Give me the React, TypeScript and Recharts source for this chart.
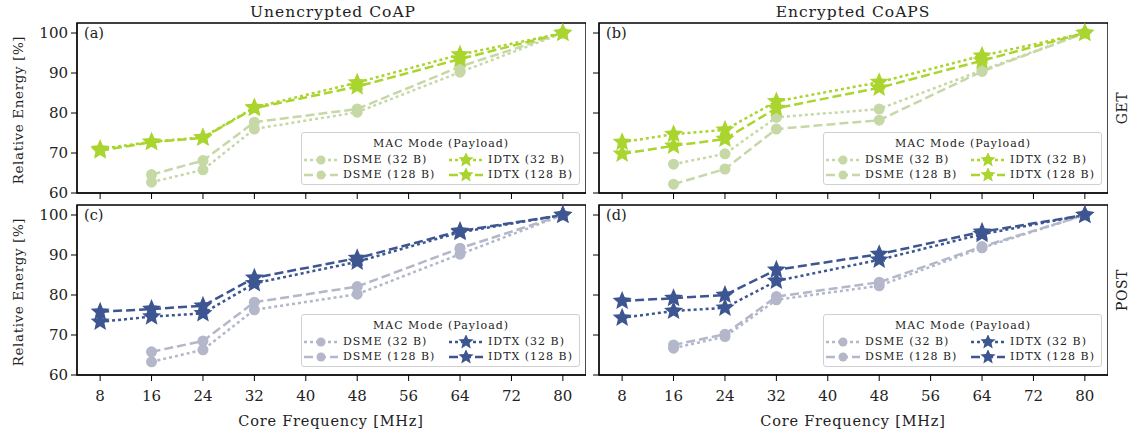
import React from 'react';
import { LineChart, Line, XAxis, YAxis, ReferenceArea } from 'recharts';

const freqs = [8, 16, 24, 32, 48, 64, 80];
const xTicks = [8, 16, 24, 32, 40, 48, 56, 64, 72, 80];
const yTicks = [60, 70, 80, 90, 100];

// (a) GET, unencrypted CoAP
const getCoapDsme32 = [null, 62.7, 65.8, 76.0, 80.2, 90.2, 100];
const getCoapDsme128 = [null, 64.6, 68.1, 77.7, 81.0, 91.6, 100];
const getCoapIdtx32 = [71.0, 72.8, 73.9, 81.4, 87.6, 94.6, 100];
const getCoapIdtx128 = [70.6, 72.7, 73.8, 81.2, 86.6, 93.5, 100];

// (b) GET, encrypted CoAPS
const getCoapsDsme32 = [null, 67.2, 69.8, 78.9, 81.0, 90.7, 100];
const getCoapsDsme128 = [null, 62.2, 66.0, 76.0, 78.2, 90.4, 100];
const getCoapsIdtx32 = [72.7, 74.7, 75.8, 82.9, 87.7, 94.3, 100];
const getCoapsIdtx128 = [69.8, 71.8, 73.5, 81.2, 86.3, 93.1, 100];

// (c) POST, unencrypted CoAP
const postCoapDsme32 = [null, 63.3, 66.3, 76.3, 80.2, 90.2, 100];
const postCoapDsme128 = [null, 65.8, 68.5, 78.2, 82.1, 91.7, 100];
const postCoapIdtx32 = [73.3, 74.6, 75.4, 82.9, 88.3, 95.7, 100];
const postCoapIdtx128 = [75.8, 76.5, 77.3, 84.3, 89.2, 96.0, 100];

// (d) POST, encrypted CoAPS
const postCoapsDsme32 = [null, 66.7, 69.6, 78.8, 82.3, 91.8, 100];
const postCoapsDsme128 = [null, 67.5, 70.2, 79.6, 83.2, 92.1, 100];
const postCoapsIdtx32 = [74.3, 76.0, 76.8, 83.5, 88.8, 95.2, 100];
const postCoapsIdtx128 = [78.5, 79.2, 80.0, 86.3, 90.2, 95.8, 100];

const GET_DSME = '#c6d8a6';
const GET_IDTX = '#aad42e';
const POST_DSME = '#b3b7c9';
const POST_IDTX = '#3d5590';

const FONT = '"DejaVu Serif", serif';
const DOTTED = '3 3';
const DASHED = '9 4';

const X_DOMAIN: [number, number] = [4.4, 83.6];
const Y_DOMAIN: [number, number] = [60, 102.5];

function starPath(cx: number, cy: number, R: number) {
  const r = R * 0.45;
  let d = '';
  for (let i = 0; i < 10; i++) {
    const rad = i % 2 === 0 ? R : r;
    const a = -Math.PI / 2 + (i * Math.PI) / 5;
    d += (i === 0 ? 'M' : 'L') + (cx + rad * Math.cos(a)).toFixed(2) + ',' + (cy + rad * Math.sin(a)).toFixed(2);
  }
  return d + 'Z';
}

const makeDot = (shape: 'star' | 'circle', color: string) => (props: any) => {
  const { cx, cy, index, value } = props;
  if (cx == null || cy == null || value == null) return <g key={`e-${index}`} />;
  if (shape === 'star') return <path key={`s-${index}`} d={starPath(cx, cy, 10)} fill={color} />;
  return <circle key={`c-${index}`} cx={cx} cy={cy} r={5.5} fill={color} />;
};

function buildRows(d32: (number | null)[], d128: (number | null)[], i32: number[], i128: number[]) {
  return freqs.map((f, i) => ({ f, d32: d32[i], d128: d128[i], i32: i32[i], i128: i128[i] }));
}

function LegendSwatch({ color, dash, shape }: { color: string; dash: string; shape: 'star' | 'circle' }) {
  return (
    <svg width={36} height={14} style={{ display: 'block', flex: 'none' }}>
      <line x1={1} y1={7} x2={35} y2={7} stroke={color} strokeWidth={2.5} strokeDasharray={dash} />
      {shape === 'star' ? <path d={starPath(18, 7, 8)} fill={color} /> : <circle cx={18} cy={7} r={4.5} fill={color} />}
    </svg>
  );
}

function PanelLegend({ dsme, idtx }: { dsme: string; idtx: string }) {
  const item = (color: string, dash: string, shape: 'star' | 'circle', text: string) => (
    <div style={{ display: 'flex', alignItems: 'center', gap: 4, whiteSpace: 'nowrap' }}>
      <LegendSwatch color={color} dash={dash} shape={shape} />
      <span>{text}</span>
    </div>
  );
  return (
    <div
      style={{
        position: 'absolute',
        left: 224,
        top: 132,
        width: 279,
        height: 53,
        border: '1.5px solid #d0d0d0',
        borderRadius: 3,
        background: 'rgba(255,255,255,0.85)',
        fontFamily: FONT,
        fontSize: 11,
        letterSpacing: 1,
        color: '#222',
        boxSizing: 'border-box',
        padding: '3px 0 0 1px',
      }}
    >
      <div style={{ textAlign: 'center', lineHeight: '16px' }}>MAC Mode (Payload)</div>
      <div style={{ display: 'grid', gridTemplateColumns: '145px 132px', lineHeight: '15px' }}>
        {item(dsme, DOTTED, 'circle', 'DSME (32 B)')}
        {item(idtx, DOTTED, 'star', 'IDTX (32 B)')}
        {item(dsme, DASHED, 'circle', 'DSME (128 B)')}
        {item(idtx, DASHED, 'star', 'IDTX (128 B)')}
      </div>
    </div>
  );
}

interface PanelProps {
  left: number;
  top: number;
  tag: string;
  rows: any[];
  dsme: string;
  idtx: string;
  showY: boolean;
  showX: boolean;
}

function Panel({ left, top, tag, rows, dsme, idtx, showY, showX }: PanelProps) {
  const tickStyle = { fontFamily: FONT, fontSize: 15, fill: '#222' };
  return (
    <div style={{ position: 'absolute', left, top, width: 586, height: 233 }}>
      <LineChart width={586} height={233} data={rows} margin={{ top: 23, right: 0, bottom: 0, left: 0 }}>
        <XAxis
          dataKey="f"
          type="number"
          domain={X_DOMAIN}
          ticks={xTicks}
          height={40}
          tickSize={6}
          tickMargin={9}
          tick={tickStyle}
          stroke="#000"
          tickFormatter={(v) => (showX ? String(v) : '')}
          allowDataOverflow
        />
        <YAxis
          type="number"
          domain={Y_DOMAIN}
          ticks={yTicks}
          width={77}
          tickSize={6}
          tickMargin={3}
          tick={tickStyle}
          stroke="#000"
          tickFormatter={(v) => (showY ? String(v) : '')}
          allowDataOverflow
        />
        <ReferenceArea x1={X_DOMAIN[0]} x2={X_DOMAIN[1]} y1={Y_DOMAIN[0]} y2={Y_DOMAIN[1]} fill="none" stroke="#000" strokeWidth={1.4} fillOpacity={0} />
        <Line dataKey="d32" stroke={dsme} strokeWidth={2.5} strokeDasharray={DOTTED} dot={makeDot('circle', dsme)} activeDot={false} isAnimationActive={false} />
        <Line dataKey="d128" stroke={dsme} strokeWidth={2.5} strokeDasharray={DASHED} dot={makeDot('circle', dsme)} activeDot={false} isAnimationActive={false} />
        <Line dataKey="i32" stroke={idtx} strokeWidth={2.5} strokeDasharray={DOTTED} dot={makeDot('star', idtx)} activeDot={false} isAnimationActive={false} />
        <Line dataKey="i128" stroke={idtx} strokeWidth={2.5} strokeDasharray={DASHED} dot={makeDot('star', idtx)} activeDot={false} isAnimationActive={false} />
      </LineChart>
      <div style={{ position: 'absolute', left: 84, top: 25, fontFamily: FONT, fontSize: 14.5, color: '#222' }}>{tag}</div>
      <div style={{ position: 'absolute', left: 77, top: 0 }}>
        <PanelLegend dsme={dsme} idtx={idtx} />
      </div>
    </div>
  );
}

const textStyle: React.CSSProperties = { position: 'absolute', fontFamily: FONT, color: '#222', whiteSpace: 'nowrap' };

function VText({ x, y, text, size, spacing = 0 }: { x: number; y: number; text: string; size: number; spacing?: number }) {
  return (
    <div style={{ ...textStyle, left: x, top: y, fontSize: size, letterSpacing: spacing, transform: 'translate(-50%, -50%) rotate(-90deg)' }}>{text}</div>
  );
}

function HText({ x, y, text, size, spacing = 0 }: { x: number; y: number; text: string; size: number; spacing?: number }) {
  return <div style={{ ...textStyle, left: x, top: y, fontSize: size, letterSpacing: spacing, transform: 'translate(-50%, -50%)' }}>{text}</div>;
}

export default function App() {
  return (
    <div style={{ position: 'absolute', left: 0, top: 0, width: 1139, height: 433, background: '#fff', overflow: 'hidden' }}>
      <Panel left={0} top={0} tag="(a)" rows={buildRows(getCoapDsme32, getCoapDsme128, getCoapIdtx32, getCoapIdtx128)} dsme={GET_DSME} idtx={GET_IDTX} showY showX={false} />
      <Panel left={522} top={0} tag="(b)" rows={buildRows(getCoapsDsme32, getCoapsDsme128, getCoapsIdtx32, getCoapsIdtx128)} dsme={GET_DSME} idtx={GET_IDTX} showY={false} showX={false} />
      <Panel left={0} top={182} tag="(c)" rows={buildRows(postCoapDsme32, postCoapDsme128, postCoapIdtx32, postCoapIdtx128)} dsme={POST_DSME} idtx={POST_IDTX} showY showX />
      <Panel left={522} top={182} tag="(d)" rows={buildRows(postCoapsDsme32, postCoapsDsme128, postCoapsIdtx32, postCoapsIdtx128)} dsme={POST_DSME} idtx={POST_IDTX} showY={false} showX />

      <HText x={333} y={12} text="Unencrypted CoAP" size={15.5} spacing={1} />
      <HText x={853} y={12} text="Encrypted CoAPS" size={15.5} spacing={1} />
      <VText x={18} y={110} text="Relative Energy [%]" size={13.5} spacing={0.6} />
      <VText x={18} y={292} text="Relative Energy [%]" size={13.5} spacing={0.6} />
      <VText x={1122} y={108} text="GET" size={14} spacing={0.5} />
      <VText x={1122} y={290} text="POST" size={14} spacing={0.5} />
      <HText x={331} y={421} text="Core Frequency [MHz]" size={14.5} spacing={0.8} />
      <HText x={853} y={421} text="Core Frequency [MHz]" size={14.5} spacing={0.8} />
    </div>
  );
}
